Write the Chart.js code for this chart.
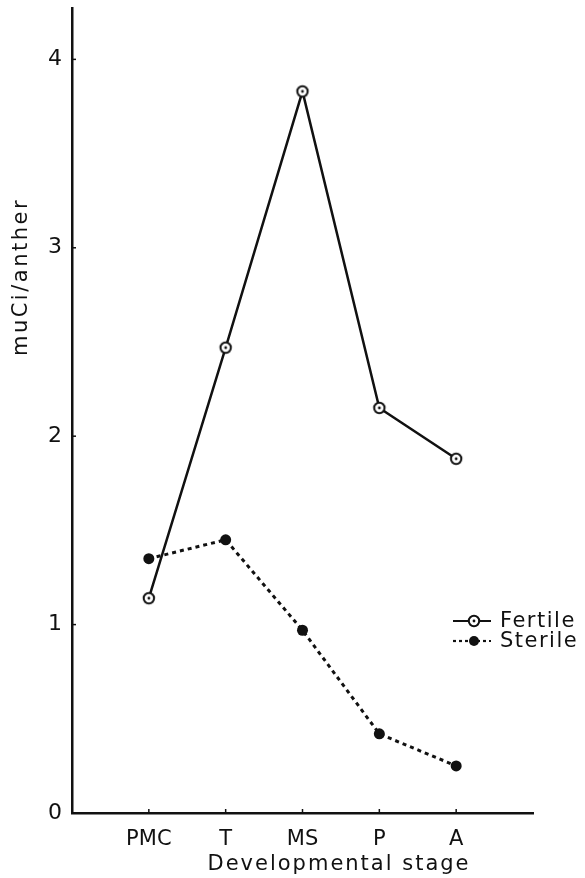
<!DOCTYPE html>
<html>
<head>
<meta charset="utf-8">
<script src="https://cdn.jsdelivr.net/npm/chart.js@4.4.1/dist/chart.umd.min.js"></script>
<style>
  html, body { margin: 0; padding: 0; background: #fff; }
</style>
</head>
<body>
<canvas id="chart" width="585" height="878"></canvas>
<script>
const stages = ['PMC', 'T', 'MS', 'P', 'A'];
const fertile = [1.14, 2.47, 3.83, 2.15, 1.88];
const sterile = [1.35, 1.45, 0.97, 0.42, 0.25];
const yTicks = [0, 1, 2, 3, 4];

const ink = '#111';
const font = "'DejaVu Sans', sans-serif";

// open circle with a dot in the middle, as on the fertile curve
const openDot = document.createElement('canvas');
openDot.width = 16; openDot.height = 16;
(() => {
    const c = openDot.getContext('2d');
    c.fillStyle = '#fff';
    c.strokeStyle = ink;
    c.lineWidth = 2;
    c.beginPath(); c.arc(8, 8, 5.2, 0, Math.PI * 2); c.fill(); c.stroke();
    c.fillStyle = ink;
    c.beginPath(); c.arc(8, 8, 1.4, 0, Math.PI * 2); c.fill();
})();

const toPoints = vals => vals.map((v, i) => ({ x: i + 1, y: v }));

const extras = {
    id: 'extras',
    afterDraw(chart) {
        const { ctx, scales: { x, y } } = chart;
        ctx.save();
        ctx.strokeStyle = ink;
        ctx.lineWidth = 1.5;
        // small inward tick marks
        yTicks.forEach(t => {
            const py = y.getPixelForValue(t);
            ctx.beginPath(); ctx.moveTo(x.left, py); ctx.lineTo(x.left + 4, py); ctx.stroke();
        });
        stages.forEach((s, i) => {
            const px = x.getPixelForValue(i + 1);
            ctx.beginPath(); ctx.moveTo(px, y.bottom); ctx.lineTo(px, y.bottom - 4); ctx.stroke();
        });

        // axis titles
        ctx.fillStyle = ink;
        ctx.font = '21px ' + font;
        ctx.textAlign = 'center';
        ctx.textBaseline = 'middle';
        ctx.letterSpacing = '2px';
        ctx.fillText('Developmental stage', 339, 865);
        ctx.save();
        ctx.translate(22, 277);
        ctx.rotate(-Math.PI / 2);
        ctx.letterSpacing = '2.5px';
        ctx.fillText('muCi/anther', 0, 0);
        ctx.restore();

        // legend
        const rows = [
            { label: 'Fertile', y: 621, dash: [], img: true },
            { label: 'Sterile', y: 641, dash: [3, 3], img: false }
        ];
        ctx.font = '21px ' + font;
        ctx.letterSpacing = '1.5px';
        ctx.textAlign = 'left';
        rows.forEach(r => {
            ctx.setLineDash(r.dash);
            ctx.lineWidth = 2.2;
            ctx.beginPath(); ctx.moveTo(453, r.y); ctx.lineTo(491, r.y); ctx.stroke();
            ctx.setLineDash([]);
            if (r.img) {
                ctx.drawImage(openDot, 474 - 8, r.y - 8);
            } else {
                ctx.beginPath(); ctx.arc(474, r.y, 5, 0, Math.PI * 2); ctx.fill();
            }
            ctx.fillText(r.label, 500, r.y + 1);
        });
        ctx.restore();
    }
};

new Chart(document.getElementById('chart'), {
    type: 'line',
    data: {
        datasets: [{
            label: 'Fertile',
            data: toPoints(fertile),
            borderColor: ink,
            borderWidth: 2.5,
            pointStyle: openDot,
            pointRadius: 6,
            tension: 0
        }, {
            label: 'Sterile',
            data: toPoints(sterile),
            borderColor: ink,
            backgroundColor: ink,
            borderWidth: 3,
            borderDash: [4, 4],
            pointRadius: 5.5,
            pointBorderWidth: 0,
            pointBackgroundColor: ink,
            tension: 0
        }]
    },
    options: {
        responsive: false,
        animation: false,
        layout: { padding: { top: 7, right: 52, left: 0, bottom: 0 } },
        plugins: {
            legend: { display: false },
            tooltip: { enabled: false }
        },
        scales: {
            x: {
                type: 'linear',
                min: 0,
                max: 6,
                afterFit: s => { s.height = 65; s.paddingLeft = 0; s.paddingRight = 0; },
                afterBuildTicks: s => { s.ticks = stages.map((_, i) => ({ value: i + 1 })); },
                ticks: {
                    color: ink,
                    font: { family: font, size: 21 },
                    padding: 6,
                    maxRotation: 0,
                    autoSkip: false,
                    callback: v => stages[v - 1] || ''
                },
                grid: { display: false },
                border: { display: true, color: ink, width: 2.5 }
            },
            y: {
                min: 0,
                max: 4.27,
                afterFit: s => { s.width = 72; s.paddingTop = 0; s.paddingBottom = 0; },
                afterBuildTicks: s => { s.ticks = yTicks.map(v => ({ value: v })); },
                ticks: {
                    color: ink,
                    font: { family: font, size: 22 },
                    padding: 2
                },
                grid: { display: false },
                border: { display: true, color: ink, width: 2.5 }
            }
        }
    },
    plugins: [extras]
});
</script>
</body>
</html>
